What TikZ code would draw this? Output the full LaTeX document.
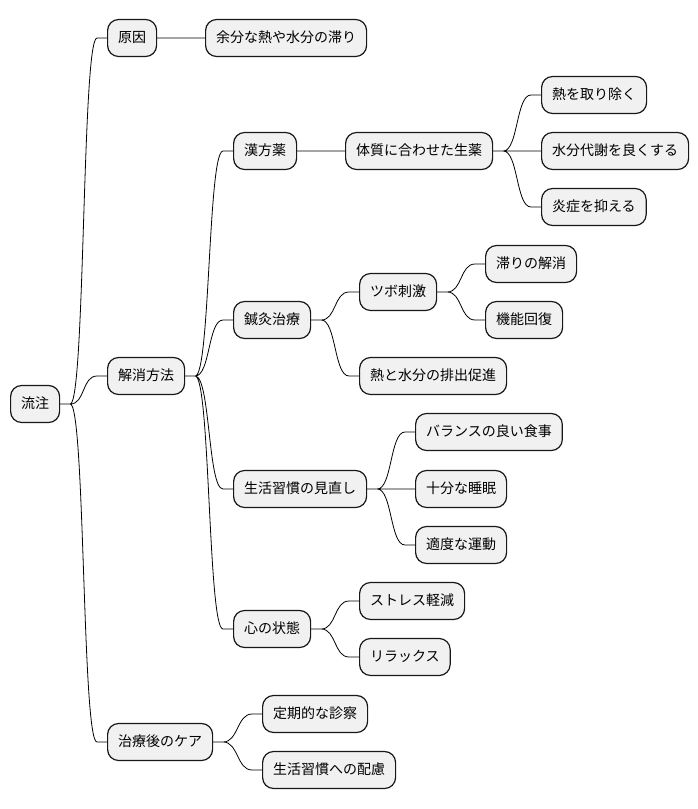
\documentclass[tikz,border=0pt]{standalone}
\usepackage{fontspec}
\newfontfamily\jpfont{Noto Sans CJK JP}
\definecolor{boxfill}{HTML}{F1F1F1}
\definecolor{boxline}{HTML}{181818}
\tikzset{
  topic/.style={draw=boxline, fill=boxfill, line width=1.2pt, rounded corners=11pt,
    minimum height=37pt, inner xsep=10.5pt, text height=10.8pt, text depth=2.6pt,
    anchor=west, font=\jpfont\fontsize{14}{16}\selectfont},
  limb/.style={to path={-- ++(10,0) .. controls +(15,0) and +(-15,0) .. ([xshift=-10pt]\tikztotarget) -- (\tikztotarget)}}
}

\begin{document}
\begin{tikzpicture}[x=1pt, y=-1pt]
        \useasboundingbox (0,0) rectangle (698,809);
        % main topic and first level
        \node[topic] (ryuchu) at (10,404) {流注};
        \node[topic] (gen) at (107,38) {原因};
        \node[topic] (kaisho) at (107,376) {解消方法};
        \node[topic] (care) at (107,742) {治療後のケア};
        % cause
        \node[topic] (taido) at (205,38) {余分な熱や水分の滞り};
        % remedies
        \node[topic] (kampo) at (233,151) {漢方薬};
        \node[topic] (shoyaku) at (345,151) {体質に合わせた生薬};
        \node[topic] (netsu) at (541,95) {熱を取り除く};
        \node[topic] (taisha) at (541,151) {水分代謝を良くする};
        \node[topic] (ensho) at (541,207) {炎症を抑える};
        \node[topic] (shinkyu) at (233,320) {鍼灸治療};
        \node[topic] (tsubo) at (359,292) {ツボ刺激};
        \node[topic] (kaiso) at (485,264) {滞りの解消};
        \node[topic] (kaifuku) at (485,320) {機能回復};
        \node[topic] (haishutsu) at (359,376) {熱と水分の排出促進};
        \node[topic] (shukan) at (233,489) {生活習慣の見直し};
        \node[topic] (shokuji) at (415,432) {バランスの良い食事};
        \node[topic] (suimin) at (415,489) {十分な睡眠};
        \node[topic] (undo) at (415,545) {適度な運動};
        \node[topic] (kokoro) at (233,629) {心の状態};
        \node[topic] (stress) at (359,601) {ストレス軽減};
        \node[topic] (relax) at (359,657) {リラックス};
        % after care
        \node[topic] (shinsatsu) at (262,714) {定期的な診察};
        \node[topic] (hairyo) at (262,770) {生活習慣への配慮};
        % branches
        \draw[line width=0.8pt] (ryuchu.east) to[limb] (gen.west)
                                (ryuchu.east) to[limb] (kaisho.west)
                                (ryuchu.east) to[limb] (care.west)
                                (gen.east) to[limb] (taido.west)
                                (kaisho.east) to[limb] (kampo.west)
                                (kaisho.east) to[limb] (shinkyu.west)
                                (kaisho.east) to[limb] (shukan.west)
                                (kaisho.east) to[limb] (kokoro.west)
                                (kampo.east) to[limb] (shoyaku.west)
                                (shoyaku.east) to[limb] (netsu.west)
                                (shoyaku.east) to[limb] (taisha.west)
                                (shoyaku.east) to[limb] (ensho.west)
                                (shinkyu.east) to[limb] (tsubo.west)
                                (shinkyu.east) to[limb] (haishutsu.west)
                                (tsubo.east) to[limb] (kaiso.west)
                                (tsubo.east) to[limb] (kaifuku.west)
                                (shukan.east) to[limb] (shokuji.west)
                                (shukan.east) to[limb] (suimin.west)
                                (shukan.east) to[limb] (undo.west)
                                (kokoro.east) to[limb] (stress.west)
                                (kokoro.east) to[limb] (relax.west)
                                (care.east) to[limb] (shinsatsu.west)
                                (care.east) to[limb] (hairyo.west);
    \end{tikzpicture}
\end{document}
